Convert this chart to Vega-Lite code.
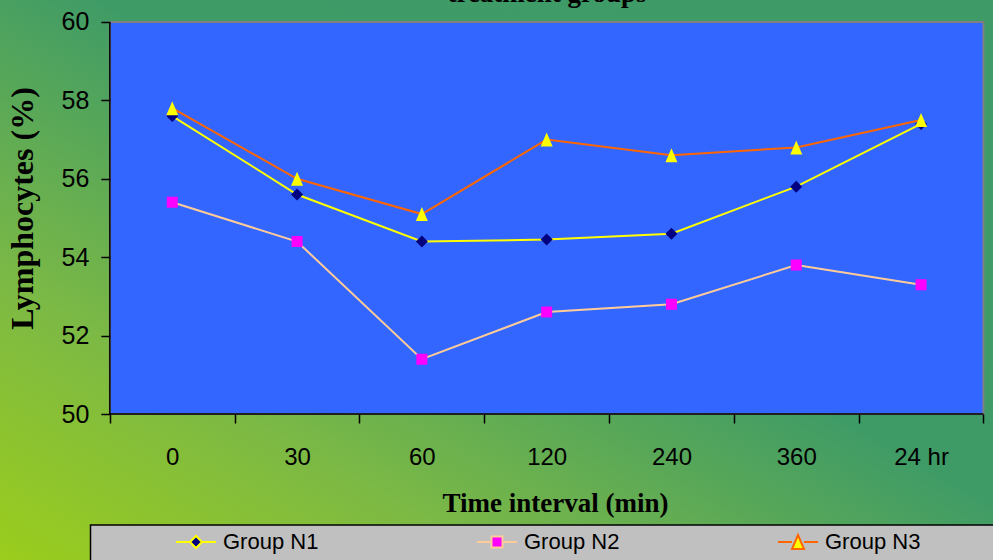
{
  "$schema": "https://vega.github.io/schema/vega-lite/v6.json",
  "width": 993,
  "height": 560,
  "autosize": {"type": "none"},
  "padding": 0,
  "background": "#3F9B66",
  "config": {
    "view": {"stroke": null},
    "axis": {"grid": false, "domain": false, "labelColor": "black", "titleColor": "black", "tickColor": "black"}
  },
  "title": {
    "text": "treatment groups",
    "anchor": "middle",
    "font": "Liberation Serif",
    "fontWeight": "bold",
    "fontSize": 27,
    "color": "black",
    "offset": -8,
    "dx": 50.5,
    "zindex": 1
  },
  "datasets": {
    "lymph": [
      {"time": "0", "group": "Group N1", "value": 57.6},
      {"time": "30", "group": "Group N1", "value": 55.6},
      {"time": "60", "group": "Group N1", "value": 54.4},
      {"time": "120", "group": "Group N1", "value": 54.45},
      {"time": "240", "group": "Group N1", "value": 54.6},
      {"time": "360", "group": "Group N1", "value": 55.8},
      {"time": "24 hr", "group": "Group N1", "value": 57.4},
      {"time": "0", "group": "Group N2", "value": 55.4},
      {"time": "30", "group": "Group N2", "value": 54.4},
      {"time": "60", "group": "Group N2", "value": 51.4},
      {"time": "120", "group": "Group N2", "value": 52.6},
      {"time": "240", "group": "Group N2", "value": 52.8},
      {"time": "360", "group": "Group N2", "value": 53.8},
      {"time": "24 hr", "group": "Group N2", "value": 53.3},
      {"time": "0", "group": "Group N3", "value": 57.8},
      {"time": "30", "group": "Group N3", "value": 56.0},
      {"time": "60", "group": "Group N3", "value": 55.1},
      {"time": "120", "group": "Group N3", "value": 57.0},
      {"time": "240", "group": "Group N3", "value": 56.6},
      {"time": "360", "group": "Group N3", "value": 56.8},
      {"time": "24 hr", "group": "Group N3", "value": 57.5}
    ]
  },
  "layer": [
    {
      "data": {"values": [{}]},
      "mark": {
        "type": "rect",
        "color": {
          "gradient": "linear",
          "x1": 0, "y1": 1, "x2": 1, "y2": 0,
          "stops": [
            {"offset": 0, "color": "#9BCD1C"},
            {"offset": 0.25, "color": "#7CB945"},
            {"offset": 0.55, "color": "#3F9B66"},
            {"offset": 1, "color": "#3E9A67"}
          ]
        }
      },
      "encoding": {}
    },
    {
      "data": {"values": [{}]},
      "mark": {"type": "rect", "fill": "#C0C0C0", "stroke": "black", "strokeWidth": 1.5},
      "encoding": {
        "x": {"datum": "0", "type": "nominal", "bandPosition": -0.155},
        "x2": {"datum": "24 hr", "bandPosition": 1.2},
        "y": {"datum": 47.17, "type": "quantitative"},
        "y2": {"datum": 45.8}
      }
    },
    {
      "data": {"values": [{}]},
      "mark": {"type": "rect", "fill": "#3366FF", "stroke": "#808080", "strokeWidth": 2},
      "encoding": {
        "x": {"datum": "0", "type": "nominal", "bandPosition": 0},
        "x2": {"datum": "24 hr", "bandPosition": 1},
        "y": {"datum": 50, "type": "quantitative"},
        "y2": {"datum": 60}
      }
    },
    {
      "data": {"values": [{}]},
      "mark": {"type": "rule", "color": "black", "strokeWidth": 1.5},
      "encoding": {
        "x": {"datum": "0", "type": "nominal", "bandPosition": 0},
        "y": {"datum": 50, "type": "quantitative"},
        "y2": {"datum": 60}
      }
    },
    {
      "data": {"values": [{}]},
      "mark": {"type": "rule", "color": "black", "strokeWidth": 1.5},
      "encoding": {
        "x": {"datum": "0", "type": "nominal", "bandPosition": 0},
        "x2": {"datum": "24 hr", "bandPosition": 1},
        "y": {"datum": 50, "type": "quantitative"}
      }
    },
    {
      "data": {"name": "lymph"},
      "mark": {"type": "line", "strokeWidth": 2},
      "encoding": {
        "x": {
          "field": "time",
          "type": "nominal",
          "scale": {
            "type": "band",
            "domain": ["0", "30", "60", "120", "240", "360", "24 hr"],
            "paddingInner": 0,
            "paddingOuter": 0.4784,
            "align": 0.92
          },
          "axis": {
            "title": "Time interval (min)",
            "orient": "bottom",
            "zindex": 1,
            "offset": -146,
            "labelAngle": 0,
            "labelAlign": "center",
            "tickBand": "extent",
            "tickSize": 9,
            "tickWidth": 1.5,
            "labelFont": "Liberation Sans",
            "labelFontSize": 24,
            "labelBaseline": "middle",
            "labelPadding": 34,
            "titleFont": "Liberation Serif",
            "titleFontWeight": "bold",
            "titleFontSize": 27,
            "titleX": 555,
            "titleY": 97.7,
            "titleAlign": "center",
            "titleBaseline": "alphabetic"
          }
        },
        "y": {
          "field": "value",
          "type": "quantitative",
          "scale": {"domain": [46.276, 60.561], "nice": false, "zero": false},
          "axis": {
            "title": "Lymphocytes  (%)",
            "orient": "left",
            "zindex": 1,
            "offset": -109.85,
            "values": [50, 52, 54, 56, 58, 60],
            "tickSize": 9,
            "tickWidth": 1.5,
            "labelFont": "Liberation Sans",
            "labelFontSize": 25,
            "labelPadding": 12,
            "titleFont": "Liberation Serif",
            "titleFontWeight": "bold",
            "titleFontSize": 32,
            "titleX": -87,
            "titleY": 208,
            "titleAngle": 270,
            "titleAlign": "center",
            "titleBaseline": "middle"
          }
        },
        "color": {
          "field": "group",
          "type": "nominal",
          "scale": {"domain": ["Group N1", "Group N2", "Group N3"], "range": ["#FFFF00", "#FFCC99", "#FF6600"]},
          "legend": {
            "orient": "none",
            "legendX": 175,
            "legendY": 521,
            "direction": "horizontal",
            "title": null,
            "padding": 0,
            "symbolSize": 1600,
            "symbolStrokeWidth": 2,
            "labelFont": "Liberation Sans",
            "labelFontSize": 22,
            "labelColor": "black",
            "labelOffset": 6,
            "columnPadding": 154
          }
        }
      }
    },
    {
      "data": {"name": "lymph"},
      "mark": {"type": "point", "filled": true, "size": 1600, "strokeWidth": 0, "opacity": 1},
      "encoding": {
        "x": {"field": "time", "type": "nominal"},
        "y": {"field": "value", "type": "quantitative"},
        "fill": {
          "field": "group",
          "type": "nominal",
          "scale": {"domain": ["Group N1", "Group N2", "Group N3"], "range": ["#000080", "#FF00FF", "#FFFF00"]},
          "legend": {
            "orient": "none",
            "legendX": 175,
            "legendY": 521,
            "direction": "horizontal",
            "title": null,
            "padding": 0,
            "symbolSize": 1600,
            "symbolStrokeWidth": 2,
            "labelFont": "Liberation Sans",
            "labelFontSize": 22,
            "labelColor": "black",
            "labelOffset": 6,
            "columnPadding": 154
          }
        },
        "shape": {
          "field": "group",
          "type": "nominal",
          "scale": {
            "domain": ["Group N1", "Group N2", "Group N3"],
            "range": [
              "M-1,0H-0.3M0.3,0H1M0,-0.3L0.3,0L0,0.3L-0.3,0Z",
              "M-1,0H-0.275M0.275,0H1M-0.275,-0.275H0.275V0.275H-0.275Z",
              "M-1,0H-0.3M0.3,0H1M0,-0.35L0.3,0.35L-0.3,0.35Z"
            ]
          },
          "legend": {
            "orient": "none",
            "legendX": 175,
            "legendY": 521,
            "direction": "horizontal",
            "title": null,
            "padding": 0,
            "symbolSize": 1600,
            "symbolStrokeWidth": 2,
            "labelFont": "Liberation Sans",
            "labelFontSize": 22,
            "labelColor": "black",
            "labelOffset": 6,
            "columnPadding": 154
          }
        }
      }
    }
  ]
}
